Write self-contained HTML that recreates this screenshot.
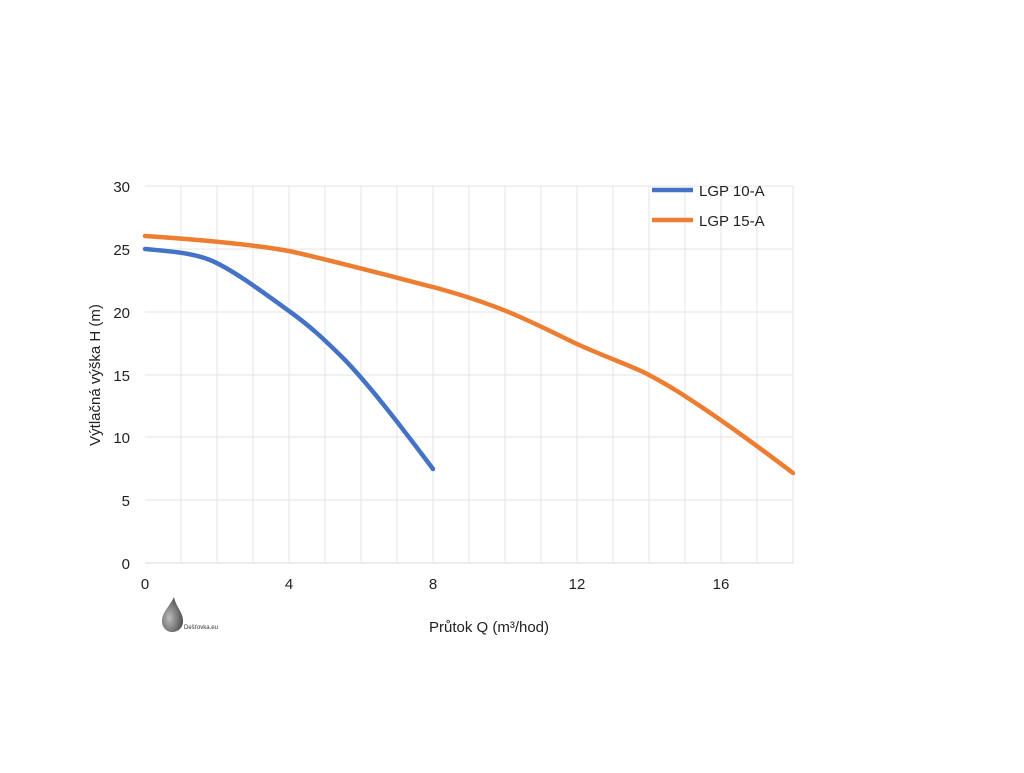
<!DOCTYPE html>
<html><head><meta charset="utf-8"><style>body{margin:0;background:#fff}</style></head><body>
<svg width="1024" height="768" xmlns="http://www.w3.org/2000/svg" font-family="Liberation Sans, sans-serif">
<g stroke="#e6e6e6" stroke-width="1">
<line x1="181" y1="186" x2="181" y2="563"/><line x1="217" y1="186" x2="217" y2="563"/><line x1="253" y1="186" x2="253" y2="563"/><line x1="289" y1="186" x2="289" y2="563"/><line x1="325" y1="186" x2="325" y2="563"/><line x1="361" y1="186" x2="361" y2="563"/><line x1="397" y1="186" x2="397" y2="563"/><line x1="433" y1="186" x2="433" y2="563"/><line x1="469" y1="186" x2="469" y2="563"/><line x1="505" y1="186" x2="505" y2="563"/><line x1="541" y1="186" x2="541" y2="563"/><line x1="577" y1="186" x2="577" y2="563"/><line x1="613" y1="186" x2="613" y2="563"/><line x1="649" y1="186" x2="649" y2="563"/><line x1="685" y1="186" x2="685" y2="563"/><line x1="721" y1="186" x2="721" y2="563"/><line x1="757" y1="186" x2="757" y2="563"/><line x1="793" y1="186" x2="793" y2="563"/>
<line x1="145" y1="186" x2="793" y2="186"/><line x1="145" y1="249" x2="793" y2="249"/><line x1="145" y1="312" x2="793" y2="312"/><line x1="145" y1="375" x2="793" y2="375"/><line x1="145" y1="437" x2="793" y2="437"/><line x1="145" y1="500" x2="793" y2="500"/>
</g>
<line x1="145" y1="563" x2="793" y2="563" stroke="#d9d9d9"/>
<g font-size="15" fill="#222" text-anchor="end">
<text x="130" y="192">30</text><text x="130" y="255">25</text><text x="130" y="318">20</text><text x="130" y="381">15</text><text x="130" y="443">10</text><text x="130" y="506">5</text><text x="130" y="569">0</text>
</g>
<g font-size="15" fill="#222" text-anchor="middle">
<text x="145" y="589">0</text><text x="289" y="589">4</text><text x="433" y="589">8</text><text x="577" y="589">12</text><text x="721" y="589">16</text>
</g>
<text x="489" y="632" font-size="15" fill="#222" text-anchor="middle">Průtok Q (m³/hod)</text>
<text transform="translate(100,375) rotate(-90)" font-size="15" fill="#222" text-anchor="middle">Výtlačná výška H (m)</text>
<path d="M145,249 C165,251 190,252 210,260 C230,268 260,290 289,311 C310,326 325,340 345,360 C370,386 400,425 433,469" fill="none" stroke="#4472c4" stroke-width="4.5" stroke-linecap="round"/>
<path d="M145,236 C190,239 250,244 289,251 C330,260 390,276 433,287 C470,297 500,308 520,317 C545,328 560,336 577,344 C610,359 635,367 649,375 C670,386 685,396 700,406 C730,426 760,448 793,473" fill="none" stroke="#ed7d31" stroke-width="4.5" stroke-linecap="round"/>
<line x1="652" y1="190" x2="693" y2="190" stroke="#4472c4" stroke-width="4.5"/>
<line x1="652" y1="220" x2="693" y2="220" stroke="#ed7d31" stroke-width="4.5"/>
<text x="699" y="196" font-size="15" fill="#222">LGP 10-A</text>
<text x="699" y="226" font-size="15" fill="#222">LGP 15-A</text>
<defs><radialGradient id="g" cx="0.35" cy="0.6" r="0.7"><stop offset="0" stop-color="#bbb"/><stop offset="1" stop-color="#444"/></radialGradient></defs>
<path d="M174,597 C170,606 162,612 162,621 C162,628 167,632 172,632 C178,632 183,628 183,621 C183,612 176,607 174,597 Z" fill="url(#g)"/>
<text x="184" y="629" font-size="6" fill="#333">Dešťovka.eu</text>
</svg>
</body></html>
